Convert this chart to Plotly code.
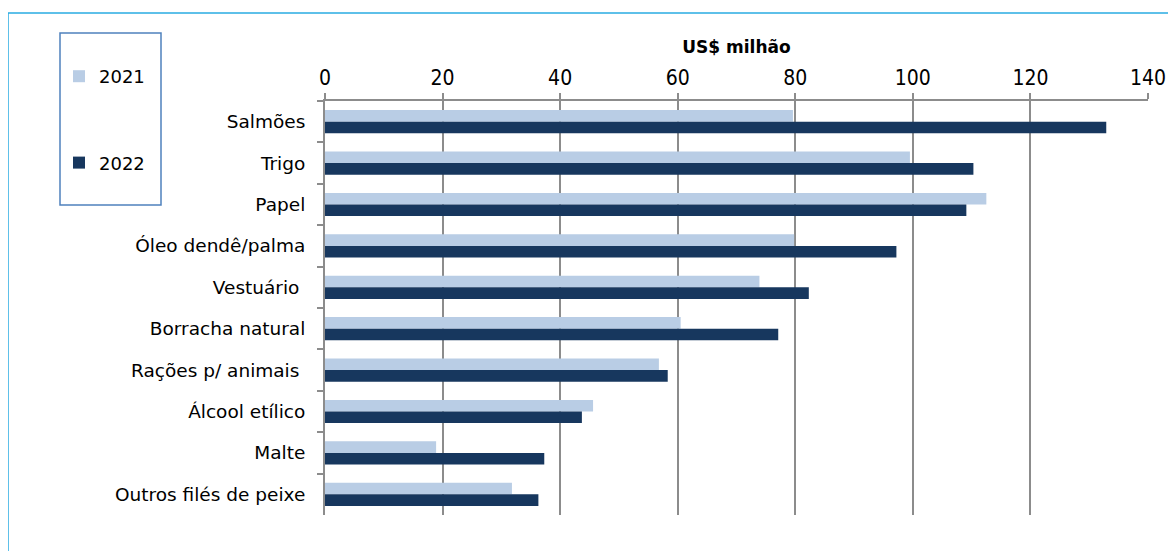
import plotly.graph_objects as go

categories = ["Salmões", "Trigo", "Papel", "Óleo dendê/palma", "Vestuário ",
              "Borracha natural", "Rações p/ animais ", "Álcool etílico",
              "Malte", "Outros filés de peixe"]
values_2021 = [79.6, 99.5, 112.5, 79.8, 73.9, 60.5, 56.8, 45.6, 18.9, 31.8]
values_2022 = [132.9, 110.3, 109.1, 97.2, 82.3, 77.1, 58.3, 43.7, 37.3, 36.3]
x_ticks = [0, 20, 40, 60, 80, 100, 120, 140]

W, H = 1176, 551
OFF = 8  # page body margin offset
L, R, T, B = 325 - OFF, 1148 - OFF, 101 - OFF, 515 - OFF

def px(x):
    return (x - OFF - L) / (R - L)

def py(y):
    return (B - (y - OFF)) / (B - T)

fig = go.Figure()
fig.add_trace(go.Bar(y=categories, x=values_2021, name="2021", orientation="h",
                     marker=dict(color="#b9cde5", line=dict(width=0)),
                     legendgroup="a"))
fig.add_trace(go.Bar(y=categories, x=values_2022, name="2022", orientation="h",
                     marker=dict(color="#17375e", line=dict(width=0)),
                     legendgroup="b"))

grid = "#8c8c8c"
fig.update_layout(
    width=W, height=H,
    margin=dict(l=L, r=W - R, t=T, b=H - B, pad=0),
    paper_bgcolor="white", plot_bgcolor="white",
    barmode="group", bargap=0.44, bargroupgap=0,
    font=dict(family="DejaVu Sans", size=17, color="#000000"),
    showlegend=True,
    legend=dict(x=px(59), y=py(58), xanchor="left", yanchor="top",
                bgcolor="rgba(0,0,0,0)", borderwidth=0,
                font=dict(family="DejaVu Sans", size=18, color="#000000"),
                traceorder="grouped", tracegroupgap=60),
    xaxis=dict(side="top", range=[0, 140], tickvals=x_ticks,
               showgrid=True, gridcolor=grid, gridwidth=2,
               showline=True, linecolor=grid, linewidth=2,
               ticks="outside", ticklen=6, tickcolor=grid, tickwidth=1.5,
               tickfont=dict(family="Liberation Sans Narrow, DejaVu Sans Condensed", size=21, color="#000000"),
               title=dict(text="<b>US$ milhão</b>", font=dict(family="DejaVu Sans", size=17), standoff=8),
               zeroline=False, mirror=False),
    yaxis=dict(categoryorder="array", categoryarray=categories, autorange="reversed",
               showgrid=False, showline=True, linecolor=grid, linewidth=2,
               ticks="outside", ticklen=6, tickcolor=grid, tickwidth=1.5,
               tickson="boundaries", ticklabelstandoff=14,
               tickfont=dict(family="DejaVu Sans", size=18.5, color="#000000")),
)

# outer frame (light blue) and legend box
fig.add_shape(type="line", xref="paper", yref="paper",
              x0=px(8), x1=px(1200), y0=py(13), y1=py(13),
              line=dict(color="#29abe2", width=1.5))
fig.add_shape(type="line", xref="paper", yref="paper",
              x0=px(8), x1=px(8), y0=py(13), y1=py(580),
              line=dict(color="#29abe2", width=1.5))
fig.add_shape(type="rect", xref="paper", yref="paper",
              x0=px(60), x1=px(161), y0=py(33), y1=py(205),
              line=dict(color="#4f81bd", width=1.5), fillcolor="rgba(0,0,0,0)")

fig.write_html("out.html")
